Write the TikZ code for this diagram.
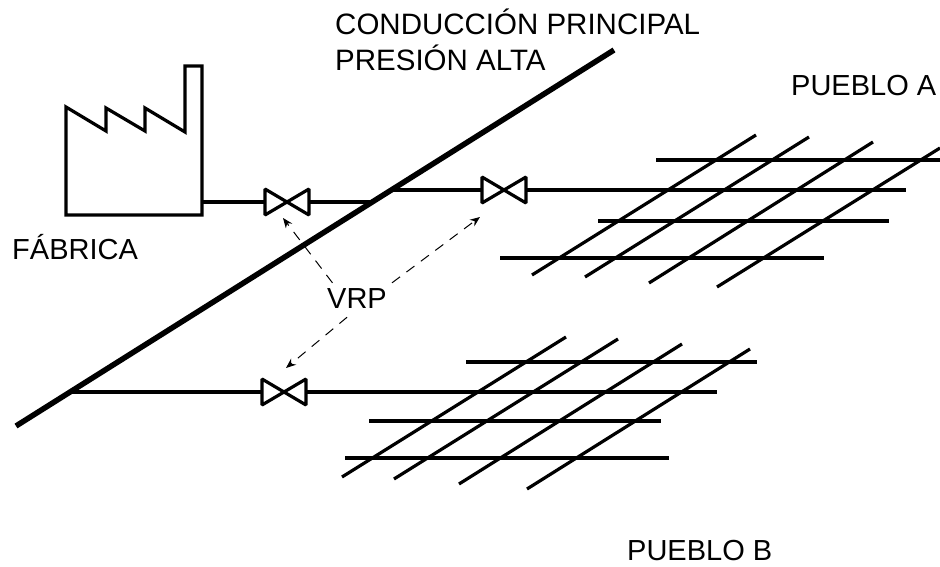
\documentclass[tikz,border=0pt]{standalone}
\usepackage{fontspec}
\setmainfont{Liberation Sans}
\usetikzlibrary{arrows.meta}
\tikzset{
  pipe/.style={line width=3.2pt},
  mainpipe/.style={line width=5.5pt},
  callout/.style={dash pattern=on 10pt off 8pt,line width=1pt,-{Stealth[length=10pt,width=8pt]}},
  lbl/.style={font=\fontsize{29}{33}\selectfont,inner sep=0pt,anchor=base west},
  lblmain/.style={lbl,font=\fontsize{29.5}{33}\selectfont},
  valve/.pic={\draw[pipe,miter limit=2] (-22,-13)--(22,13)--(22,-13)--(-22,13)--cycle;}
}
\begin{document}
\begin{tikzpicture}[x=1pt,y=-1pt]
  \useasboundingbox (0,0) rectangle (940,567);
  % main line and valves
  \coordinate (M0) at (16,426); \coordinate (M1) at (614,50);
  \coordinate (VF) at (287,202); \coordinate (VA) at (504,190); \coordinate (VB) at (284,392);
  \draw[mainpipe] (M0)--(M1);
  \pic at (VF) {valve}; \pic at (VA) {valve}; \pic at (VB) {valve};
  % factory
  \coordinate (F) at (202,202);
  \draw[pipe,miter limit=3] (66,215)--(66,107)--(106,131)--(106,108)--(145,131)--(145,108)--(185,132)--(185,66)--(202,66)--(202,215)--cycle;
  \draw[pipe] (F)--(265,202); \draw[pipe] (309,202)--(373,202);
  \draw[pipe] (392,190)--(482,190); \draw[pipe] (526,190)--(906,190);
  \draw[pipe] (72,392)--(262,392); \draw[pipe] (306,392)--(717,392);
  % town A
  \draw[pipe] (656,160)--(940,160); \draw[pipe] (598,221)--(889,221); \draw[pipe] (500,258)--(824,258);
  \draw[pipe] (532,275)--(756,135); \draw[pipe] (585,277)--(809,137); \draw[pipe] (649,283)--(873,142); \draw[pipe] (717,287)--(940,148);
  % town B
  \draw[pipe] (466,362)--(757,362); \draw[pipe] (369,421)--(661,421); \draw[pipe] (345,458)--(669,458);
  \draw[pipe] (342,477)--(566,337); \draw[pipe] (394,479)--(618,339); \draw[pipe] (459,484)--(682,344); \draw[pipe] (527,489)--(750,349);
  % labels
  \node[lblmain] (main1) at (335,35) {CONDUCCIÓN PRINCIPAL};
  \node[lblmain] (main2) at (335,71) {PRESIÓN ALTA};
  \node[lbl] (townA) at (791,96) {PUEBLO A};
  \node[lbl] (townB) at (627,560) {PUEBLO B};
  \node[lbl] (fab) at (12,259) {FÁBRICA};
  \node[lbl,anchor=base,inner sep=5pt,text depth=4pt] (vrp) at (357,308) {VRP};
  \coordinate (TF) at (283,218); \coordinate (TA) at (480,217); \coordinate (TB) at (286,368);
  \draw[callout] (vrp.145)--(TF); \draw[callout] (vrp.north east)--(TA); \draw[callout] (vrp.240)--(TB);
\end{tikzpicture}
\end{document}
